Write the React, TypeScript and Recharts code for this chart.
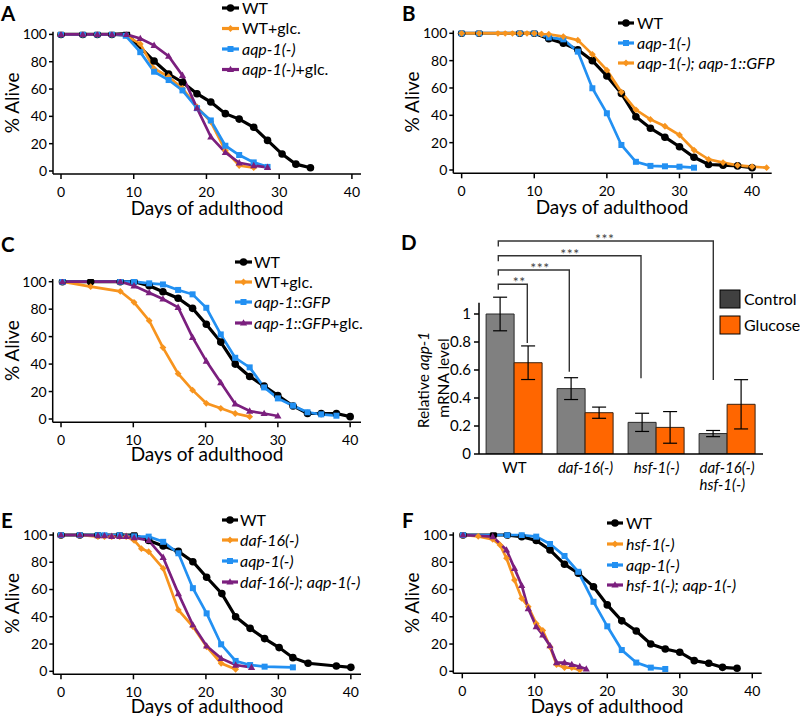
import React from 'react';
import { LineChart, Line, XAxis, YAxis, BarChart, Bar, ErrorBar } from 'recharts';

const FONT = 'Lato, "Open Sans", sans-serif';
const BLACK = '#000000';
const ORANGE = '#F7941E';
const BLUE = '#2290F2';
const PURPLE = '#7B1F7E';

// ---------- Panel A ----------
const A_WT_DAYS = [0, 3, 5, 7, 9, 12.8, 14.8, 16.7, 18.7, 20.6, 22.6, 24.5, 26.5, 28.4, 30.4, 32.3, 34.3];
const A_WT_ALIVE = [100, 100, 100, 100, 100.5, 80.5, 71, 65, 56.6, 50.5, 42, 38, 32, 22.4, 12.4, 5, 2.4];
const A_GLC_DAYS = [0, 3, 5, 7, 9, 10.9, 12.8, 14.8, 16.7, 18.7, 20.6, 22.6, 24.5, 26.5];
const A_GLC_ALIVE = [100, 100, 100, 100, 99, 93, 75, 69, 60.5, 47, 36, 15, 4, 2.4];
const A_AQP_DAYS = [0, 3, 5, 7, 8.9, 10.9, 12.8, 14.8, 16.7, 18.7, 20.6, 22.6, 24.5, 26.5, 28.4];
const A_AQP_ALIVE = [100, 100, 100, 100, 99, 87, 72.7, 66.6, 59, 46, 37, 18.5, 11.7, 6.3, 3];
const A_AQPGLC_DAYS = [0, 3, 5, 7, 9, 10.9, 12.8, 14.8, 16.7, 18.7, 20.6, 22.6, 24.5, 26.5, 28.4];
const A_AQPGLC_ALIVE = [100, 100, 100, 100, 100, 97, 92, 84, 70, 46, 25, 13.6, 6, 4, 2.7];

// ---------- Panel B ----------
const B_WT_DAYS = [0, 2.4, 8, 10, 12, 14, 16, 18, 20, 22, 24, 26, 28, 30, 32, 34, 36, 38, 40];
const B_WT_ALIVE = [100, 100, 100, 100, 96, 92.7, 88, 80, 68.8, 56, 39, 30.5, 24, 17, 9.3, 4, 3.5, 3, 1.7];
const B_AQP_DAYS = [0, 2.4, 8, 10, 12, 14, 16, 18, 20, 22, 24, 26, 28, 30, 32];
const B_AQP_ALIVE = [100, 100, 100, 100, 97, 95.6, 86.6, 59.8, 41.5, 18.3, 6, 3, 2.7, 2.4, 1.7];
const B_RESC_DAYS = [0, 2.4, 5, 6, 7, 8, 9, 10, 11, 12, 14, 16, 18, 20, 22, 24, 26, 28, 30, 32, 34, 36, 38, 40, 42];
const B_RESC_ALIVE = [100, 100, 100, 100, 100, 100, 100, 100, 99.5, 99.3, 97.6, 95, 84.6, 73, 57, 44, 37, 32, 25.6, 14.6, 7.8, 5.4, 3.4, 2.4, 1.7];

// ---------- Panel C ----------
const C_WT_DAYS = [0.2, 4.1, 8.2, 10.1, 12.2, 14.1, 16.2, 18.2, 20.1, 22.1, 24.1, 26.1, 28.1, 30, 32.1, 34.1, 36, 38.1, 40];
const C_WT_ALIVE = [100, 100, 100, 100, 97, 92.7, 88, 80.6, 69, 56, 40, 31, 24, 17, 9.5, 4, 4, 4, 1.7];
const C_GLC_DAYS = [0.2, 4.1, 8.2, 10.1, 12.2, 14.1, 16.2, 18.2, 20.1, 22.1, 24.1, 26.1];
const C_GLC_ALIVE = [100, 96.4, 93, 85, 71.6, 52, 33, 21, 11.4, 7.8, 4, 1.7];
const C_GFP_DAYS = [0.2, 8.2, 10.1, 12.2, 14.1, 16.2, 18.2, 20.1, 22.1, 24.1, 26.1, 28.1, 30, 32.1, 34.1, 36, 38.1];
const C_GFP_ALIVE = [100, 100, 100, 98.8, 98, 94, 90.8, 81, 61.6, 44.6, 37.6, 23, 15, 9.7, 4.9, 3.4, 2.4];
const C_GFPGLC_DAYS = [0.2, 8.2, 10.1, 12.2, 14.1, 16.2, 18.2, 20.1, 22.1, 24.1, 26.1, 28.1, 30];
const C_GFPGLC_ALIVE = [100, 100, 97, 92, 87.4, 81.3, 59.5, 42.2, 26.5, 11, 5.8, 4, 2.2];

// ---------- Panel E ----------
const E_WT_DAYS = [0, 2.6, 5.1, 8.1, 10.1, 12.1, 14.1, 16.2, 18.2, 20.1, 22.2, 24.1, 26.1, 28.1, 30.1, 32, 34.1, 38, 40];
const E_WT_ALIVE = [100, 100, 100, 100, 100, 96, 92, 88, 80.4, 69, 57, 40, 31.5, 24, 17.4, 10, 5.9, 3.9, 2.9];
const E_DAF_DAYS = [0, 2.6, 5.1, 6, 7, 8.1, 9, 10.1, 11.1, 12.1, 14.1, 16.2, 18.2, 20.1, 22.1, 24.1];
const E_DAF_ALIVE = [100, 100, 98.8, 98.8, 98.8, 98.8, 98.8, 96, 90, 87.8, 75.5, 45, 32.8, 18, 5.9, 1.5];
const E_AQP_DAYS = [0, 2.6, 5.1, 6, 8.1, 10.1, 12.1, 14.1, 16.2, 18.2, 20.1, 22.1, 24.1, 26.1, 28.1, 32];
const E_AQP_ALIVE = [100, 100, 100, 100, 100, 99, 98.8, 95, 86.6, 61, 42.5, 19.8, 7.6, 4.6, 3.4, 2.9];
const E_DBL_DAYS = [0, 2.6, 5.1, 6, 7, 8.1, 9, 10.1, 12.1, 14.1, 16.2, 18.2, 20.1, 22.1, 24.1, 26.3];
const E_DBL_ALIVE = [100, 100, 99.5, 99.5, 99, 99, 99, 98, 96, 83.6, 57, 34, 18.6, 9.5, 4.6, 2.9];

// ---------- Panel F ----------
const F_WT_DAYS = [0.1, 4.3, 6.2, 8.2, 10.2, 12.1, 14.1, 16, 18.1, 20, 22, 24, 26, 28, 30, 32, 34, 35.9, 37.9];
const F_WT_ALIVE = [100, 100, 100, 98.8, 96, 89, 78.5, 72, 62, 48.7, 37, 29.6, 20, 16.4, 14, 7.8, 5.9, 2.9, 2.2];
const F_HSF_DAYS = [0.1, 2.2, 4.2, 5.2, 6.1, 7.2, 8.2, 9.1, 10.2, 11.1, 12.1, 13, 14.1, 15.1, 16.2];
const F_HSF_ALIVE = [100, 99, 96.8, 92.7, 83, 67, 53.5, 47.4, 35, 30, 18, 5, 2.7, 2.7, 1];
const F_AQP_DAYS = [0.1, 6.2, 8.2, 10.2, 12.1, 14.1, 16, 18.1, 20, 22, 24, 26, 28];
const F_AQP_ALIVE = [100, 100, 100, 98.8, 93.4, 84.6, 73, 51, 33, 15.6, 6.4, 2.7, 1.7];
const F_DBL_DAYS = [0.1, 4.2, 6.1, 7.2, 8.2, 9.1, 10.2, 11.1, 12.1, 13, 14.1, 15.1, 16.2, 17.1];
const F_DBL_ALIVE = [100, 98.8, 89, 75.5, 63, 46, 32.8, 26.7, 18.8, 6.4, 6.4, 5, 3.4, 1.7];

// ---------- Panel D ----------
const D_CATEGORIES = ['WT', 'daf-16(-)', 'hsf-1(-)', 'daf-16(-)\nhsf-1(-)'];
const D_CONTROL = [1.0, 0.467, 0.226, 0.146];
const D_CONTROL_ERR = [0.12, 0.078, 0.065, 0.022];
const D_GLUCOSE = [0.652, 0.295, 0.19, 0.355];
const D_GLUCOSE_ERR = [0.12, 0.04, 0.113, 0.176];

const X_TICKS = [0, 10, 20, 30, 40];
const Y_TICKS = [0, 20, 40, 60, 80, 100];
const D_Y_TICKS = [0, 0.2, 0.4, 0.6, 0.8, 1];

type Shape = 'circle' | 'diamond' | 'square' | 'triangle';

function Marker({ shape, cx, cy, color }: { shape: Shape; cx: number; cy: number; color: string }) {
  if (shape === 'circle') return <circle cx={cx} cy={cy} r={3.8} fill={color} />;
  if (shape === 'diamond')
    return <polygon points={`${cx},${cy - 3.4} ${cx + 3.4},${cy} ${cx},${cy + 3.4} ${cx - 3.4},${cy}`} fill={color} />;
  if (shape === 'square') return <rect x={cx - 3} y={cy - 3} width={6} height={6} fill={color} />;
  return <polygon points={`${cx},${cy - 3.8} ${cx + 3.6},${cy + 2.6} ${cx - 3.6},${cy + 2.6}`} fill={color} />;
}

const makeDot = (shape: Shape, color: string) => (props: any) => {
  const { cx, cy, index } = props;
  if (cx == null || cy == null) return <g key={index} />;
  return <Marker key={index} shape={shape} cx={cx} cy={cy} color={color} />;
};

const zip = (days: number[], alive: number[]) => days.map((d, i) => ({ day: d, alive: alive[i] }));

type Seg = [string, boolean];
type Series = { key: string; color: string; shape: Shape; width: number; days: number[]; alive: number[]; label: Seg[] };

const wt = (days: number[], alive: number[]): Series => ({ key: 'wt', color: BLACK, shape: 'circle', width: 3.2, days, alive, label: [['WT', false]] });

type PanelProps = {
  left: number; top: number; plotLeft: number; plotRight: number;
  y100: number; y0: number; axisY: number; xMin: number; xMax: number; series: Series[];
};

function SurvivalPanel({ left, top, plotLeft, plotRight, y100, y0, axisY, xMin, xMax, series }: PanelProps) {
  const W = 400, H = 250;
  const ppu = (y0 - y100) / 100;
  const yMin = -(axisY - y0) / ppu;
  const yMax = 102;
  const topPx = y0 - yMax * ppu;
  const xAxisH = 40;
  return (
    <div style={{ position: 'absolute', left, top, width: W, height: H }}>
      <LineChart width={W} height={H} margin={{ top: topPx, right: W - plotRight, bottom: H - axisY - xAxisH, left: 0 }}>
        <XAxis
          type="number" dataKey="day" domain={[xMin, xMax]} allowDataOverflow ticks={X_TICKS} interval={0}
          tickSize={5} tickMargin={8} height={xAxisH}
          axisLine={{ stroke: '#000', strokeWidth: 1.5 }} tickLine={{ stroke: '#000', strokeWidth: 1.5 }}
          tick={{ fill: '#000', fontSize: 14, fontFamily: FONT }}
        />
        <YAxis
          type="number" domain={[yMin, yMax]} allowDataOverflow ticks={Y_TICKS} interval={0} width={plotLeft}
          tickSize={4} tickMargin={2}
          axisLine={{ stroke: '#000', strokeWidth: 1.5 }} tickLine={{ stroke: '#000', strokeWidth: 1.5 }}
          tick={{ fill: '#000', fontSize: 14, fontFamily: FONT }}
          label={{ value: '% Alive', angle: -90, position: 'insideLeft', offset: 12, fill: '#000', fontSize: 19, fontFamily: FONT, style: { textAnchor: 'middle' } }}
        />
        {series.map((s) => (
          <Line
            key={s.key} data={zip(s.days, s.alive)} dataKey="alive" type="linear" stroke={s.color}
            strokeWidth={s.width} dot={makeDot(s.shape, s.color)} activeDot={false} isAnimationActive={false}
          />
        ))}
      </LineChart>
    </div>
  );
}

function Legend({ x1, x2, tx, rows, series }: { x1: number; x2: number; tx: number; rows: number[]; series: Series[] }) {
  return (
    <g>
      {series.map((s, i) => (
        <g key={s.key}>
          <line x1={x1} x2={x2} y1={rows[i]} y2={rows[i]} stroke={s.color} strokeWidth={3.2} />
          <Marker shape={s.shape} cx={(x1 + x2) / 2} cy={rows[i]} color={s.color} />
          <text x={tx} y={rows[i] + 5.6} fontSize={16} fontFamily={FONT} fill="#000">
            {s.label.map(([t, it], j) => (
              <tspan key={j} fontStyle={it ? 'italic' : 'normal'}>{t}</tspan>
            ))}
          </text>
        </g>
      ))}
    </g>
  );
}

const SERIES_A: Series[] = [
  wt(A_WT_DAYS, A_WT_ALIVE),
  { key: 'glc', color: ORANGE, shape: 'diamond', width: 2.7, days: A_GLC_DAYS, alive: A_GLC_ALIVE, label: [['WT+glc.', false]] },
  { key: 'aqp', color: BLUE, shape: 'square', width: 2.7, days: A_AQP_DAYS, alive: A_AQP_ALIVE, label: [['aqp-1(-)', true]] },
  { key: 'aqpglc', color: PURPLE, shape: 'triangle', width: 2.7, days: A_AQPGLC_DAYS, alive: A_AQPGLC_ALIVE, label: [['aqp-1(-)', true], ['+glc.', false]] },
];
const SERIES_B: Series[] = [
  wt(B_WT_DAYS, B_WT_ALIVE),
  { key: 'aqp', color: BLUE, shape: 'square', width: 2.7, days: B_AQP_DAYS, alive: B_AQP_ALIVE, label: [['aqp-1(-)', true]] },
  { key: 'resc', color: ORANGE, shape: 'diamond', width: 2.7, days: B_RESC_DAYS, alive: B_RESC_ALIVE, label: [['aqp-1(-); aqp-1::GFP', true]] },
];
const SERIES_C: Series[] = [
  wt(C_WT_DAYS, C_WT_ALIVE),
  { key: 'glc', color: ORANGE, shape: 'diamond', width: 2.7, days: C_GLC_DAYS, alive: C_GLC_ALIVE, label: [['WT+glc.', false]] },
  { key: 'gfp', color: BLUE, shape: 'square', width: 2.7, days: C_GFP_DAYS, alive: C_GFP_ALIVE, label: [['aqp-1::GFP', true]] },
  { key: 'gfpglc', color: PURPLE, shape: 'triangle', width: 2.7, days: C_GFPGLC_DAYS, alive: C_GFPGLC_ALIVE, label: [['aqp-1::GFP', true], ['+glc.', false]] },
];
const SERIES_E: Series[] = [
  wt(E_WT_DAYS, E_WT_ALIVE),
  { key: 'daf', color: ORANGE, shape: 'diamond', width: 2.7, days: E_DAF_DAYS, alive: E_DAF_ALIVE, label: [['daf-16(-)', true]] },
  { key: 'aqp', color: BLUE, shape: 'square', width: 2.7, days: E_AQP_DAYS, alive: E_AQP_ALIVE, label: [['aqp-1(-)', true]] },
  { key: 'dbl', color: PURPLE, shape: 'triangle', width: 2.7, days: E_DBL_DAYS, alive: E_DBL_ALIVE, label: [['daf-16(-); aqp-1(-)', true]] },
];
const SERIES_F: Series[] = [
  wt(F_WT_DAYS, F_WT_ALIVE),
  { key: 'hsf', color: ORANGE, shape: 'diamond', width: 2.7, days: F_HSF_DAYS, alive: F_HSF_ALIVE, label: [['hsf-1(-)', true]] },
  { key: 'aqp', color: BLUE, shape: 'square', width: 2.7, days: F_AQP_DAYS, alive: F_AQP_ALIVE, label: [['aqp-1(-)', true]] },
  { key: 'dbl', color: PURPLE, shape: 'triangle', width: 2.7, days: F_DBL_DAYS, alive: F_DBL_ALIVE, label: [['hsf-1(-); aqp-1(-)', true]] },
];

const D_DATA = D_CATEGORIES.map((c, i) => ({
  cat: c, control: D_CONTROL[i], controlErr: D_CONTROL_ERR[i], glucose: D_GLUCOSE[i], glucoseErr: D_GLUCOSE_ERR[i],
}));

function DTick(props: any) {
  const { x, y, payload } = props;
  const lines = String(payload.value).split('\n');
  const multi = lines.length > 1;
  return (
    <text x={multi ? x - 28 : x} y={y} textAnchor={multi ? 'start' : 'middle'} fontSize={15} fontFamily={FONT} fill="#000">
      {lines.map((l, i) => (
        <tspan key={i} x={multi ? x - 28 : x} dy={i === 0 ? 11 : 17} fontStyle={l === 'WT' ? 'normal' : 'italic'}>{l}</tspan>
      ))}
    </text>
  );
}

function PanelD() {
  return (
    <div style={{ position: 'absolute', left: 400, top: 230, width: 400, height: 280 }}>
      <BarChart width={400} height={280} data={D_DATA} margin={{ top: 72.8, right: 37, bottom: 20, left: 0 }} barCategoryGap="10%" barGap={0}>
        <XAxis dataKey="cat" interval={0} tickLine={false} tickSize={0} tickMargin={8} height={36}
          axisLine={{ stroke: '#000', strokeWidth: 1.5 }} tick={<DTick />} />
        <YAxis type="number" domain={[0, 1.08]} allowDataOverflow ticks={D_Y_TICKS} interval={0} width={79}
          tickSize={5} tickMargin={3}
          axisLine={{ stroke: '#000', strokeWidth: 1.5 }} tickLine={{ stroke: '#000', strokeWidth: 1.5 }}
          tick={{ fill: '#000', fontSize: 15, fontFamily: FONT }} />
        <Bar dataKey="control" fill="#808080" stroke="#2a2a2a" strokeWidth={1} isAnimationActive={false}>
          <ErrorBar dataKey="controlErr" width={7} stroke="#000" strokeWidth={1.2} direction="y" />
        </Bar>
        <Bar dataKey="glucose" fill="#FF6600" stroke="#3a2210" strokeWidth={1} isAnimationActive={false}>
          <ErrorBar dataKey="glucoseErr" width={7} stroke="#000" strokeWidth={1.2} direction="y" />
        </Bar>
      </BarChart>
    </div>
  );
}

const BRACKETS = [
  { y: 284.3, x2: 527.3, drop: 343, label: '**', tx: 519.3 },
  { y: 270, x2: 569.3, drop: 371.7, label: '***', tx: 540 },
  { y: 255.7, x2: 641, drop: 378.3, label: '***', tx: 570 },
  { y: 241, x2: 713.3, drop: 380, label: '***', tx: 604.7 },
];

const X_TITLES = [
  { x: 207, y: 215 },
  { x: 612, y: 213.5 },
  { x: 207, y: 461 },
  { x: 207, y: 713 },
  { x: 607, y: 713 },
];

function Overlay() {
  const letter = (t: string, x: number, y: number) => (
    <text x={x} y={y} fontSize={20.5} fontWeight={700} fontFamily={FONT} fill="#000">{t}</text>
  );
  return (
    <svg width={800} height={720} style={{ position: 'absolute', left: 0, top: 0, pointerEvents: 'none' }}>
      {letter('A', 1, 21)}
      {letter('B', 402, 21)}
      {letter('C', 1, 252)}
      {letter('D', 401, 250)}
      {letter('E', 1, 528)}
      {letter('F', 402, 528)}
      {X_TITLES.map((t, i) => (
        <text key={'xt' + i} x={t.x} y={t.y} textAnchor="middle" fontSize={19} fontFamily={FONT} fill="#000">Days of adulthood</text>
      ))}
      <Legend x1={222} x2={239} tx={242} rows={[8, 28.5, 49, 69.5]} series={SERIES_A} />
      <Legend x1={618} x2={634} tx={637} rows={[23, 43, 63]} series={SERIES_B} />
      <Legend x1={235} x2={252} tx={254} rows={[262, 282, 302, 323]} series={SERIES_C} />
      <Legend x1={222} x2={238} tx={240} rows={[520, 540, 561, 582]} series={SERIES_E} />
      <Legend x1={607} x2={623} tx={626} rows={[523, 544, 565, 585]} series={SERIES_F} />
      {BRACKETS.map((b, i) => (
        <g key={i} stroke="#333" strokeWidth={1.4} fill="none">
          <polyline points={`498.3,${b.y + 5.5} 498.3,${b.y} ${b.x2},${b.y} ${b.x2},${b.drop}`} />
        </g>
      ))}
      {BRACKETS.map((b, i) => (
        <text key={'t' + i} x={b.tx} y={b.y + 3} textAnchor="middle" fontSize={14} fontFamily={FONT} fill="#444" letterSpacing={0.5}>{b.label}</text>
      ))}
      <rect x={720} y={290} width={20} height={18} fill="#404040" stroke="#000" strokeWidth={1} />
      <rect x={720} y={316} width={20} height={18} fill="#FF6600" stroke="#000" strokeWidth={1} />
      <text x={744} y={304.5} fontSize={16} fontFamily={FONT} fill="#000">Control</text>
      <text x={744} y={330.5} fontSize={16} fontFamily={FONT} fill="#000">Glucose</text>
      <text transform="rotate(-90, 423, 380)" x={423} y={380} textAnchor="middle" dominantBaseline="central" fontSize={15.5} fontFamily={FONT} fill="#000">
        Relative <tspan fontStyle="italic">aqp-1</tspan>
      </text>
      <text transform="rotate(-90, 443, 378)" x={443} y={378} textAnchor="middle" dominantBaseline="central" fontSize={15.5} fontFamily={FONT} fill="#000">
        mRNA level
      </text>
    </svg>
  );
}

export default function App() {
  return (
    <div style={{ position: 'absolute', left: 0, top: 0, width: 800, height: 720, background: '#fff', fontFamily: FONT }}>
      <SurvivalPanel left={0} top={0} plotLeft={53} plotRight={361} y100={34.4} y0={171} axisY={174} xMin={-1.1} xMax={41.25} series={SERIES_A} />
      <SurvivalPanel left={400} top={0} plotLeft={53.3} plotRight={371.7} y100={33.3} y0={170} axisY={173.3} xMin={-1.15} xMax={42.7} series={SERIES_B} />
      <SurvivalPanel left={0} top={230} plotLeft={52.7} plotRight={361} y100={51.7} y0={189} axisY={192.3} xMin={-1.15} xMax={41.5} series={SERIES_C} />
      <PanelD />
      <SurvivalPanel left={0} top={470} plotLeft={53.3} plotRight={361} y100={65} y0={201.3} axisY={204.3} xMin={-1.06} xMax={41.4} series={SERIES_E} />
      <SurvivalPanel left={400} top={470} plotLeft={53.3} plotRight={361.7} y100={65} y0={201.3} axisY={203.3} xMin={-1.24} xMax={41.3} series={SERIES_F} />
      <Overlay />
    </div>
  );
}
